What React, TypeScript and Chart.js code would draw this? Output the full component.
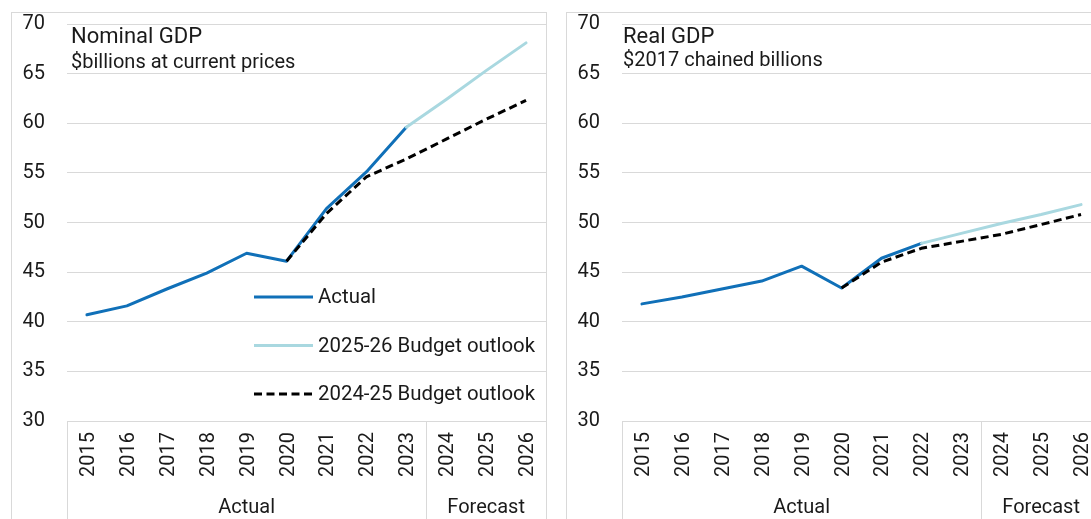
import React, { useEffect, useRef } from "react";
import { Chart, registerables } from "chart.js";

Chart.register(...registerables);

// ---------- data ----------
const years = ["2015", "2016", "2017", "2018", "2019", "2020", "2021", "2022", "2023", "2024", "2025", "2026"];

const nominalActual = [40.7, 41.6, 43.3, 44.9, 46.9, 46.1, 51.4, 55.1, 59.6, null, null, null];
const nominalOutlook2526 = [null, null, null, null, null, null, null, null, 59.6, 62.4, 65.3, 68.1];
const nominalOutlook2425 = [null, null, null, null, null, 46.1, 50.9, 54.6, 56.4, 58.4, 60.4, 62.3];

const realActual = [41.8, 42.5, 43.3, 44.1, 45.6, 43.4, 46.4, 47.9, null, null, null, null];
const realOutlook2526 = [null, null, null, null, null, null, null, 47.9, 48.9, 49.9, 50.8, 51.8];
const realOutlook2425 = [null, null, null, null, null, 43.4, 46.0, 47.4, 48.1, 48.8, 49.8, 50.8];

const seriesNames = ["Actual", "2025-26 Budget outlook", "2024-25 Budget outlook"];
const groupLabels = ["Actual", "Forecast"];
const groupStarts = [0, 9];
const groupEnds = [8, 11];

const yMin = 30;
const yMax = 70;
const yStep = 5;

// ---------- styles ----------
const BLUE = "#1070b8";
const LIGHT = "#a9d8e0";
const DASH = "#000000";
const GRID = "#d9d9d9";
const TEXT = "#1a1a1a";
const FONT = "Roboto";

const decorPlugin = {
  id: "decor",
  afterDraw(chart: any, _args: any, opts: any) {
    const { ctx, chartArea, scales } = chart;
    const xs = scales.x;
    const step = xs.getPixelForValue(1) - xs.getPixelForValue(0);
    const half = step / 2;
    const bottom = chart.height;
    ctx.save();
    // group boxes under the axis
    ctx.strokeStyle = GRID;
    ctx.lineWidth = 1;
    groupStarts.forEach((s) => {
      const lx = Math.round(xs.getPixelForValue(s) - half) + 0.5;
      ctx.beginPath();
      ctx.moveTo(lx, chartArea.bottom);
      ctx.lineTo(lx, bottom);
      ctx.stroke();
    });
    ctx.fillStyle = TEXT;
    ctx.font = `20px ${FONT}`;
    ctx.textAlign = "center";
    ctx.textBaseline = "middle";
    groupLabels.forEach((g, i) => {
      const a = xs.getPixelForValue(groupStarts[i]) - half;
      const b = xs.getPixelForValue(groupEnds[i]) + half;
      ctx.fillText(g, (a + b) / 2, chartArea.bottom + 87);
    });
    // titles
    ctx.textAlign = "left";
    ctx.textBaseline = "alphabetic";
    ctx.font = `22px ${FONT}`;
    ctx.fillText(opts.title, chartArea.left + opts.dx, chartArea.top + 19);
    ctx.font = `20px ${FONT}`;
    ctx.fillText(opts.subtitle, chartArea.left + opts.dx, chartArea.top + opts.subY);
    // legend
    if (opts.legend) {
      const ys = [297, 345.5, 394];
      const x0 = 254 - 12;
      chart.data.datasets
        .slice()
        .sort((a: any, b: any) => a.legendIndex - b.legendIndex)
        .forEach((ds: any, i: number) => {
          const y = ys[i] - 13;
          ctx.strokeStyle = ds.borderColor;
          ctx.lineWidth = ds.borderWidth;
          ctx.setLineDash(ds.borderDash || []);
          ctx.lineCap = "butt";
          ctx.beginPath();
          ctx.moveTo(x0, y);
          ctx.lineTo(x0 + 59, y);
          ctx.stroke();
          ctx.setLineDash([]);
          ctx.fillStyle = TEXT;
          ctx.font = `20.4px ${FONT}`;
          ctx.textBaseline = "middle";
          ctx.fillText(ds.label, x0 + 64, y + 1);
        });
    }
    ctx.restore();
  },
};

function makeDatasets(actual: any[], o2526: any[], o2425: any[]) {
  return [
    {
      label: seriesNames[0],
      legendIndex: 0,
      data: actual,
      borderColor: BLUE,
      backgroundColor: BLUE,
      borderWidth: 3,
      pointRadius: 0,
      borderCapStyle: "round",
      borderJoinStyle: "round",
      tension: 0,
      order: 2,
    },
    {
      label: seriesNames[1],
      legendIndex: 1,
      data: o2526,
      borderColor: LIGHT,
      backgroundColor: LIGHT,
      borderWidth: 3,
      pointRadius: 0,
      borderCapStyle: "round",
      borderJoinStyle: "round",
      tension: 0,
      order: 1,
    },
    {
      label: seriesNames[2],
      legendIndex: 2,
      data: o2425,
      borderColor: DASH,
      backgroundColor: DASH,
      borderWidth: 3,
      borderDash: [8, 4.5],
      pointRadius: 0,
      borderCapStyle: "butt",
      borderJoinStyle: "round",
      tension: 0,
      order: 0,
    },
  ];
}

function Panel(props: {
  left: number;
  actual: any[];
  o2526: any[];
  o2425: any[];
  title: string;
  subtitle: string;
  dx: number;
  subY: number;
  legend: boolean;
}) {
  const ref = useRef<HTMLCanvasElement | null>(null);
  useEffect(() => {
    if (!ref.current) return;
    const chart = new Chart(ref.current, {
      type: "line",
      data: {
        labels: years,
        datasets: makeDatasets(props.actual, props.o2526, props.o2425) as any,
      },
      options: {
        responsive: false,
        animation: false,
        spanGaps: false,
        layout: { padding: { top: 11, left: 0, right: 0, bottom: 0 } },
        plugins: {
          legend: { display: false },
          tooltip: { enabled: false },
          decor: {
            title: props.title,
            subtitle: props.subtitle,
            dx: props.dx,
            subY: props.subY,
            legend: props.legend,
          },
        } as any,
        scales: {
          x: {
            type: "category",
            offset: true,
            grid: { display: false, drawTicks: false },
            border: { display: false },
            ticks: {
              autoSkip: false,
              maxRotation: 90,
              minRotation: 90,
              padding: 11,
              labelOffset: 2,
              color: TEXT,
              font: { family: FONT, size: 20 },
            },
            afterFit(s: any) {
              s.height = 112;
              s.paddingLeft = 0;
              s.paddingRight = 0;
            },
          },
          y: {
            min: yMin,
            max: yMax,
            grid: { color: GRID, lineWidth: 1, drawTicks: false },
            border: { display: false },
            ticks: {
              stepSize: yStep,
              padding: 22,
              color: TEXT,
              font: { family: FONT, size: 20 },
            },
            afterFit(s: any) {
              s.width = 55;
              s.paddingTop = 0;
              s.paddingBottom = 0;
            },
          },
        },
      },
      plugins: [decorPlugin as any],
    });
    return () => chart.destroy();
  }, []);
  return (
    <div
      style={{
        position: "absolute",
        left: props.left,
        top: 12,
        width: 536,
        height: 620,
        border: "1px solid " + GRID,
        boxSizing: "border-box",
        background: "#fff",
      }}
    >
      <canvas ref={ref} width={534} height={520} style={{ display: "block", width: 534, height: 520 }} />
    </div>
  );
}

export default function App() {
  return (
    <div
      style={{
        position: "fixed",
        left: 0,
        top: 0,
        width: 1091,
        height: 519,
        overflow: "hidden",
        background: "#fff",
      }}
    >
      <Panel
        left={11}
        actual={nominalActual}
        o2526={nominalOutlook2526}
        o2425={nominalOutlook2425}
        title="Nominal GDP"
        subtitle="$billions at current prices"
        dx={4}
        subY={44}
        legend={true}
      />
      <Panel
        left={566}
        actual={realActual}
        o2526={realOutlook2526}
        o2425={realOutlook2425}
        title="Real GDP"
        subtitle="$2017 chained billions"
        dx={1}
        subY={42}
        legend={false}
      />
    </div>
  );
}
